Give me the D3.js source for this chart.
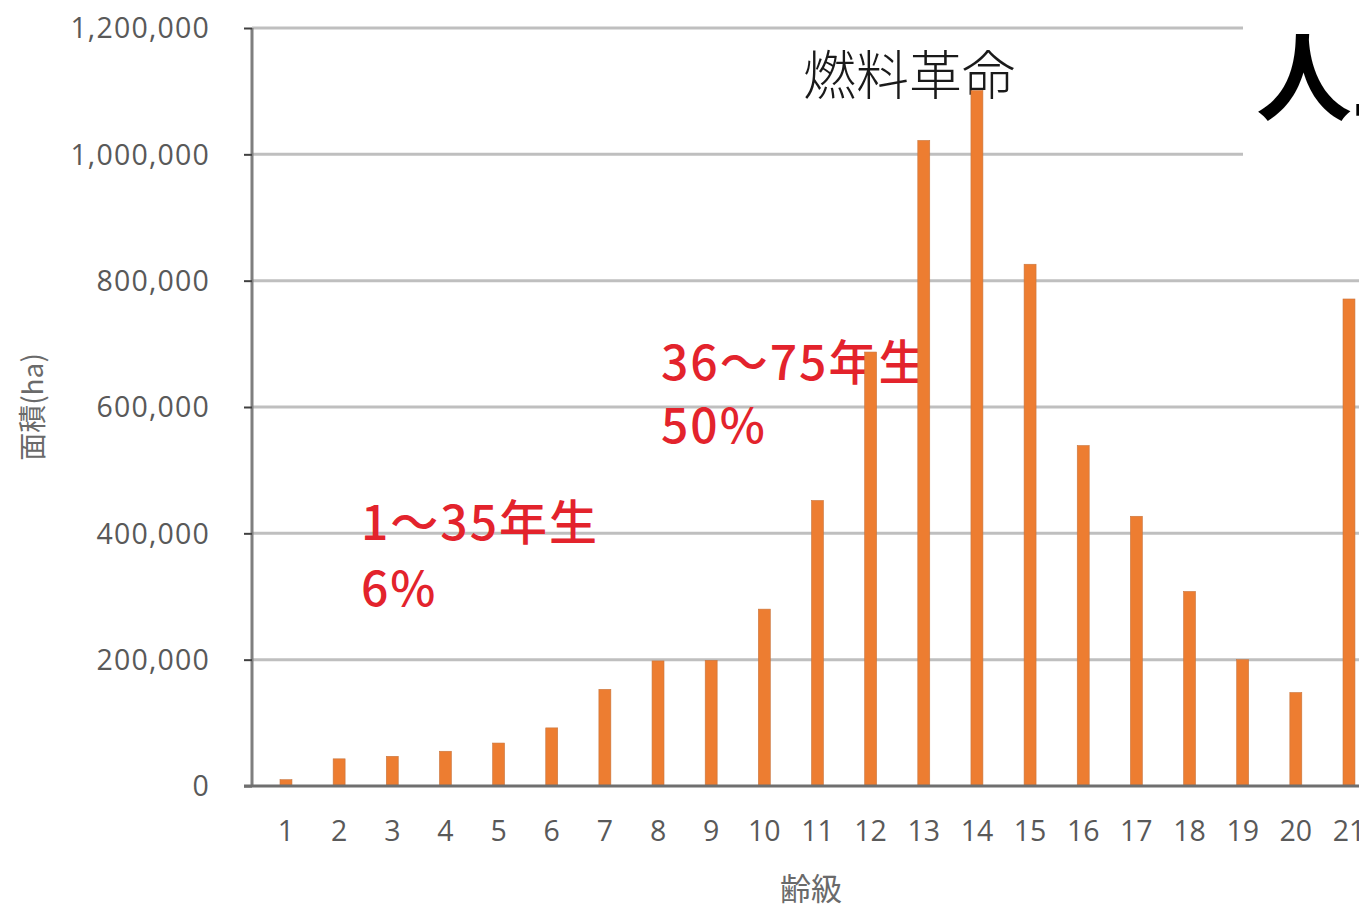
<!DOCTYPE html>
<html lang="ja">
<head>
<meta charset="utf-8">
<script src="https://cdn.jsdelivr.net/npm/d3@7"></script>
<style>
  html, body { margin: 0; padding: 0; background: #fff; }
  svg { display: block; }
</style>
</head>
<body>
<svg id="chart" width="1359" height="908"></svg>
<script>
// 齢級別の人工林面積 (ha)
const ageClasses = ["1","2","3","4","5","6","7","8","9","10","11","12","13","14","15","16","17","18","19","20","21"];
const areas = [10000, 43000, 47000, 55000, 68000, 92000, 153000, 198000, 199000, 280000, 452000, 687000, 1022000, 1101000, 826000, 539000, 427000, 308000, 200000, 148000, 771000];
const yTicks = [0, 200000, 400000, 600000, 800000, 1000000, 1200000];

const svg = d3.select("#chart");
const W = 1359, H = 908;

const axisX = 252;          // y axis line
const baseY = 786;          // value 0
const topY = 28;            // value 1,200,000
const bandStart = 259.4, step = 53.15;

const y = d3.scaleLinear().domain([0, 1200000]).range([baseY, topY]);
const x = d3.scaleBand()
  .domain(ageClasses)
  .range([bandStart, bandStart + step * ageClasses.length])
  .paddingInner(0.775)
  .paddingOuter(0.3875);

const fmt = d3.format(",");
const tickFont = "'Open Sans', 'Noto Sans', sans-serif";
const cjkFont = "'Noto Sans CJK JP', 'Noto Sans', sans-serif";

// gridlines
svg.append("g")
  .selectAll("line")
  .data(yTicks.filter(d => d > 0))
  .join("line")
  .attr("x1", axisX).attr("x2", W)
  .attr("y1", d => y(d)).attr("y2", d => y(d))
  .attr("stroke", "#bfbfbf")
  .attr("stroke-width", 3);

// title box covering upper-right area
svg.append("rect")
  .attr("x", 1243).attr("y", 0)
  .attr("width", W - 1243).attr("height", 200)
  .attr("fill", "#fff");

// y axis
const yAxis = d3.axisLeft(y)
  .tickValues(yTicks)
  .tickFormat(fmt)
  .tickSize(8)
  .tickPadding(34);

const gy = svg.append("g")
  .attr("transform", `translate(${axisX},0)`)
  .call(yAxis);
gy.select(".domain")
  .attr("stroke", "#7f7f7f")
  .attr("stroke-width", 3)
  .attr("d", `M0,${topY}V${baseY + 1}`);
gy.selectAll(".tick line").attr("stroke", "#404040").attr("stroke-width", 2);
gy.selectAll(".tick text")
  .attr("fill", "#595959")
  .attr("font-family", tickFont)
  .attr("font-size", 28.5)
  .attr("letter-spacing", 1.2)
  .attr("dy", "0.34em");

// annotations
const red = "#e3232c";
const ann = svg.append("g")
  .attr("font-family", cjkFont)
  .attr("fill", red)
  .attr("font-size", 48)
  .attr("letter-spacing", 2)
  .attr("font-weight", 500);
ann.append("text").attr("x", 361).attr("y", 540).text("1〜35年生");
ann.append("text").attr("x", 361).attr("y", 606).text("6%");
ann.append("text").attr("x", 661).attr("y", 380).text("36〜75年生");
ann.append("text").attr("x", 661).attr("y", 443).text("50%");

svg.append("text")
  .attr("x", 803).attr("y", 95)
  .attr("font-family", cjkFont)
  .attr("font-size", 53)
  .attr("font-weight", 300)
  .attr("fill", "#1a1a1a")
  .text("燃料革命");

svg.append("text")
  .attr("x", 1256).attr("y", 113)
  .attr("font-family", cjkFont)
  .attr("font-size", 96)
  .attr("font-weight", 700)
  .attr("fill", "#000")
  .text("人工林");

// bars
svg.append("g")
  .selectAll("rect")
  .data(ageClasses.map((c, i) => ({ c, v: areas[i] })))
  .join("rect")
  .attr("x", d => x(d.c))
  .attr("width", x.bandwidth())
  .attr("y", d => y(d.v))
  .attr("height", d => y(0) - y(d.v))
  .attr("fill", "#ed7d31")
  .attr("stroke", "#c8763f")
  .attr("stroke-width", 0.6);

// x axis
const xAxis = d3.axisBottom(x).tickSize(0).tickPadding(35);
const gx = svg.append("g")
  .attr("transform", `translate(0,${baseY})`)
  .call(xAxis);
gx.select(".domain")
  .attr("stroke", "#6f6f6f")
  .attr("stroke-width", 3)
  .attr("d", `M${axisX - 8},0H${W}`);
gx.selectAll(".tick text")
  .attr("fill", "#595959")
  .attr("font-family", tickFont)
  .attr("font-size", 28.5);

// axis titles
svg.append("text")
  .attr("x", 811).attr("y", 900)
  .attr("text-anchor", "middle")
  .attr("font-family", cjkFont)
  .attr("font-size", 31)
  .attr("fill", "#6a6a6a")
  .text("齢級");

svg.append("text")
  .attr("transform", "translate(43,407) rotate(-90)")
  .attr("text-anchor", "middle")
  .attr("font-family", cjkFont)
  .attr("font-size", 28)
  .attr("fill", "#6a6a6a")
  .text("面積(ha)");
</script>
</body>
</html>
